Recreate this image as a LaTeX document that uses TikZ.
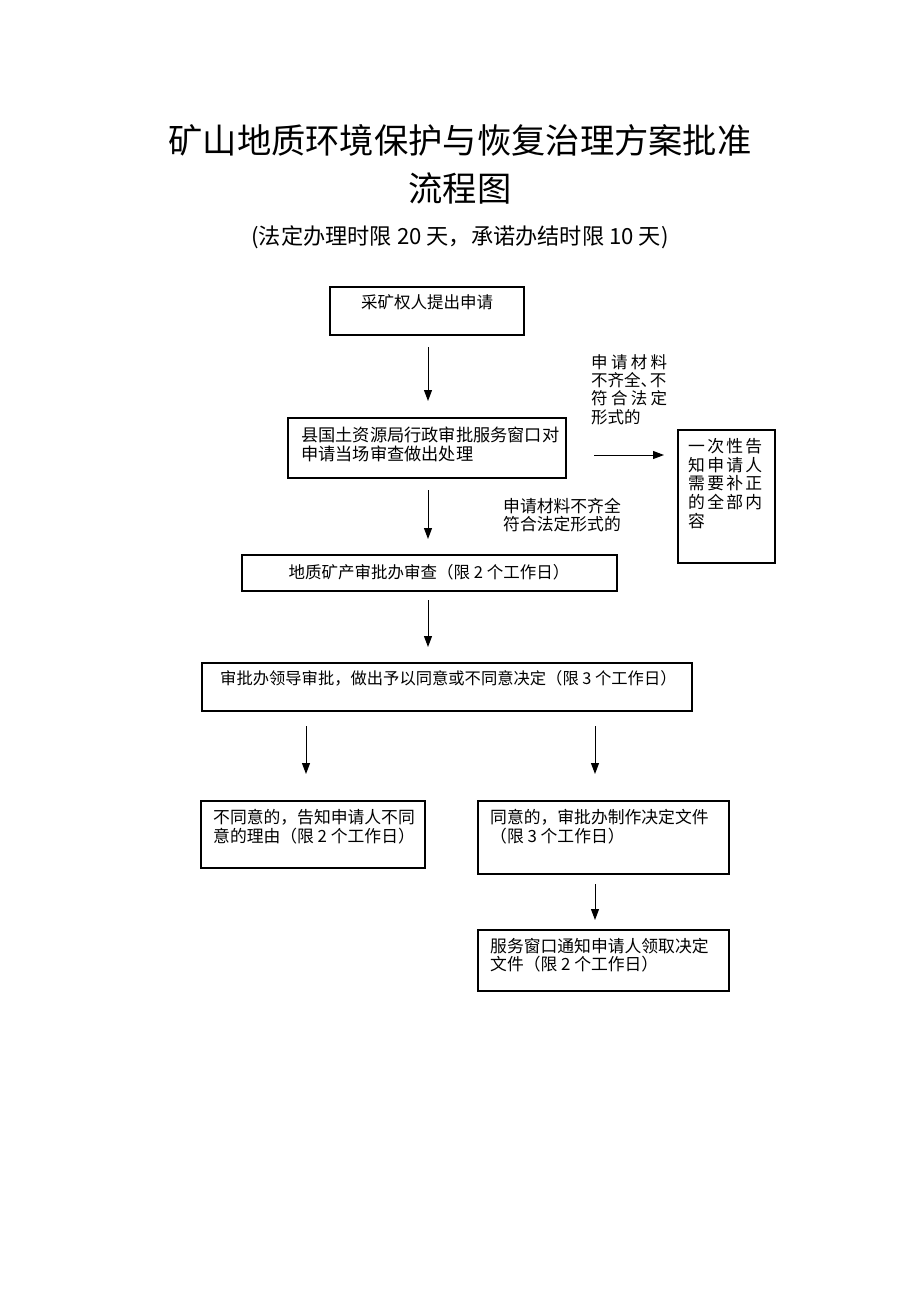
\documentclass[tikz,border=0pt]{standalone}
\usepackage{fontspec}
\setmainfont{Noto Sans CJK SC}
\usetikzlibrary{arrows.meta}
\tikzset{
  box/.style={draw, line width=1.1pt, inner sep=0pt},
  txt/.style={inner sep=0pt, align=left, font=\fontsize{16.8}{18.5}\selectfont},
  arr/.style={-{Triangle[length=11pt,width=8pt]}, line width=1pt},
}
\begin{document}
\begin{tikzpicture}[x=1pt,y=-1pt]
\useasboundingbox (0,0) rectangle (920,1302);
% titles
\node[inner sep=0pt, font=\fontsize{34.3}{38}\selectfont] (title1) at (460,140) {矿山地质环境保护与恢复治理方案批准};
\node[inner sep=0pt, font=\fontsize{34.3}{38}\selectfont] (title2) at (460,188) {流程图};
\node[inner sep=0pt, font=\fontsize{22.2}{25}\selectfont] (sub) at (460,237) {(法定办理时限 20 天，承诺办结时限 10 天)};
% boxes
\node[box, minimum width=194, minimum height=48] (b1) at (427,311) {};
\node[box, minimum width=278, minimum height=60] (b2) at (427,448) {};
\node[box, minimum width=97, minimum height=133] (b3) at (726.5,496.5) {};
\node[box, minimum width=375, minimum height=36] (b4) at (429.5,573) {};
\node[box, minimum width=490, minimum height=48] (b5) at (447,687) {};
\node[box, minimum width=224, minimum height=67] (b6) at (313,834.5) {};
\node[box, minimum width=251, minimum height=73] (b7) at (603.5,837.5) {};
\node[box, minimum width=251, minimum height=61] (b8) at (603.5,960.5) {};
% texts
\node[txt, font=\fontsize{16.5}{18.5}\selectfont] (t1) at (427,302) {采矿权人提出申请};
\node[txt, anchor=west, font=\fontsize{17.2}{18.5}\selectfont] (t2) at (301,444.5) {县国土资源局行政审批服务窗口对\\申请当场审查做出处理};
\node[txt, anchor=west, font=\fontsize{16.8}{18.75}\selectfont] (t3) at (688,483.5) {\makebox[74pt][l]{一\hfill 次\hfill 性\hfill 告}\\\makebox[74pt][l]{知\hfill 申\hfill 请\hfill 人}\\\makebox[74pt][l]{需\hfill 要\hfill 补\hfill 正}\\\makebox[74pt][l]{的\hfill 全\hfill 部\hfill 内}\\容};
\node[txt, font=\fontsize{16.5}{18.5}\selectfont] (t4) at (429,572) {地质矿产审批办审查（限 2 个工作日）};
\node[txt, anchor=west, font=\fontsize{16.3}{18.5}\selectfont] (t5) at (220,678) {审批办领导审批，做出予以同意或不同意决定（限 3 个工作日）};
\node[txt, anchor=west] (t6) at (213,826.5) {不同意的，告知申请人不同\\意的理由（限 2 个工作日）};
\node[txt, anchor=west] (t7) at (490,826.5) {同意的，审批办制作决定文件\\（限 3 个工作日）};
\node[txt, anchor=west] (t8) at (490,955) {服务窗口通知申请人领取决定\\文件（限 2 个工作日）};
% labels
\node[txt, anchor=west, font=\fontsize{16.5}{18.3}\selectfont] (l1) at (591,389.5) {\makebox[76pt][l]{申\hfill 请\hfill 材\hfill 料}\\不齐全\makebox[0.55em][l]{、}不\\\makebox[76pt][l]{符\hfill 合\hfill 法\hfill 定}\\形式的};
\node[txt, anchor=west] (l2) at (503,515) {申请材料不齐全\\符合法定形式的};
% arrows
\coordinate (a1s) at (428,347); \coordinate (a1e) at (428,401);
\coordinate (a2s) at (428,490); \coordinate (a2e) at (428,539);
\coordinate (a3s) at (428,600); \coordinate (a3e) at (428,647);
\coordinate (a4s) at (306,726); \coordinate (a4e) at (306,774);
\coordinate (a5s) at (595,726); \coordinate (a5e) at (595,774);
\coordinate (a6s) at (595,884); \coordinate (a6e) at (595,920);
\coordinate (a7s) at (594,455); \coordinate (a7e) at (664,455);
\draw[arr] (a1s) -- (a1e);
\draw[arr] (a2s) -- (a2e);
\draw[arr] (a3s) -- (a3e);
\draw[arr] (a4s) -- (a4e);
\draw[arr] (a5s) -- (a5e);
\draw[arr] (a6s) -- (a6e);
\draw[arr] (a7s) -- (a7e);
\end{tikzpicture}
\end{document}
